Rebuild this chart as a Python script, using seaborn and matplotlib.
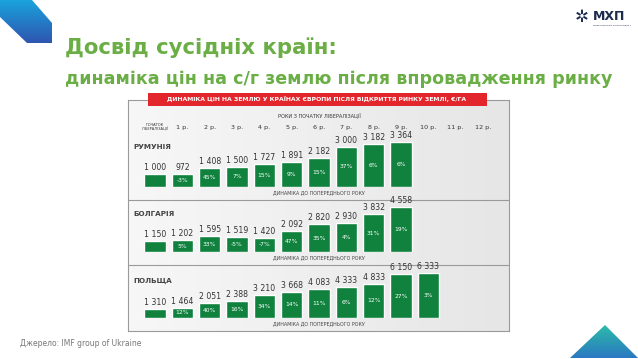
import numpy as np
import pandas as pd
import matplotlib.pyplot as plt
import seaborn as sns
from matplotlib.patches import Polygon, Rectangle
from matplotlib.colors import LinearSegmentedColormap

# дані з графіка: ціни на землю (€/га) по роках після лібералізації
years = list(range(13))
year_labels = ['ПОЧАТОК\nЛІБЕРАЛІЗАЦІЇ'] + [f'{i} р.' for i in range(1, 13)]

countries = ['РУМУНІЯ', 'БОЛГАРІЯ', 'ПОЛЬЩА']
romania_price = [1000, 972, 1408, 1500, 1727, 1891, 2182, 3000, 3182, 3364]
romania_change = ['', '-3%', '45%', '7%', '15%', '9%', '15%', '37%', '6%', '6%']
bulgaria_price = [1150, 1202, 1595, 1519, 1420, 2092, 2820, 2930, 3832, 4558]
bulgaria_change = ['', '5%', '33%', '-5%', '-7%', '47%', '35%', '4%', '31%', '19%']
poland_price = [1310, 1464, 2051, 2388, 3210, 3668, 4083, 4333, 4833, 6150, 6333]
poland_change = ['', '12%', '40%', '16%', '34%', '14%', '11%', '6%', '12%', '27%', '3%']

prices = [romania_price, bulgaria_price, poland_price]
changes = [romania_change, bulgaria_change, poland_change]

W, H = 638, 359
GREEN = '#10823e'
TITLE_GREEN = '#6aae45'
RED = '#e2262b'

sns.set_theme(style='white')
plt.rcParams['font.family'] = ['DejaVu Sans']

fig = plt.figure(figsize=(W / 100, H / 100), dpi=100)
fig.patch.set_facecolor('white')


def px_axes(x0, y0, x1, y1, **kw):
    # ejes en coordenadas de pixel (origen arriba a la izquierda)
    return fig.add_axes([x0 / W, 1 - y1 / H, (x1 - x0) / W, (y1 - y0) / H], **kw)


# fondo del slide: decoraciones
bg = px_axes(0, 0, W, H)
bg.set_xlim(0, W)
bg.set_ylim(H, 0)
bg.axis('off')
grad = np.linspace(0, 1, 100).reshape(-1, 1)
cmap_tl = LinearSegmentedColormap.from_list('tl', ['#1aa3dc', '#2e55b0'])
poly = Polygon([(0, 0), (32, 0), (52, 23), (52, 43), (27, 43), (0, 17)], closed=True,
               facecolor='none', edgecolor='none')
bg.add_patch(poly)
im = bg.imshow(grad, cmap=cmap_tl, extent=(0, 52, 43, 0), aspect='auto')
im.set_clip_path(poly)
cmap_br = LinearSegmentedColormap.from_list('br', ['#2cbba8', '#2b78c2'])
tri = Polygon([(605, 325), (638, 358), (570, 358)], closed=True,
              facecolor='none', edgecolor='none')
bg.add_patch(tri)
im2 = bg.imshow(grad, cmap=cmap_br, extent=(570, 638, 358, 325), aspect='auto')
im2.set_clip_path(tri)
bg.set_xlim(0, W)
bg.set_ylim(H, 0)

# logo
fig.text(593 / W, 1 - 17 / H, 'МХП', fontsize=9, fontweight='bold', color='#1d2b4f',
         va='center', ha='left')
fig.text(593 / W, 1 - 25 / H, 'МИРОНІВСЬКИЙ ХЛІБОПРОДУКТ', fontsize=1.6, color='#1d2b4f',
         va='center', ha='left')
fig.text(582 / W, 1 - 17 / H, '✲', fontsize=12, color='#1d2b4f', va='center', ha='center')

# títulos
fig.text(65 / W, 1 - 48 / H, 'Досвід сусідніх країн:', fontsize=15.3, fontweight='bold',
         color=TITLE_GREEN, va='center', ha='left')
fig.text(65 / W, 1 - 79 / H, 'динаміка цін на с/г землю після впровадження ринку',
         fontsize=12.6, fontweight='bold', color=TITLE_GREEN, va='center', ha='left')
fig.text(20 / W, 1 - 343 / H, 'Джерело: IMF group of Ukraine', fontsize=5.5,
         color='#777777', va='center', ha='left')

# panel con el mapa de fondo
panel = px_axes(128, 100, 509, 331)
panel.set_xlim(128, 509)
panel.set_ylim(331, 100)
cmap_map = LinearSegmentedColormap.from_list('map', ['#f7f7f7', '#e6e6e6'])
panel.imshow(np.linspace(0, 1, 100).reshape(1, -1), cmap=cmap_map,
             extent=(128, 509, 331, 100), aspect='auto')
panel.set_xticks([])
panel.set_yticks([])
for s in panel.spines.values():
    s.set_color('#9a9a9a')
    s.set_linewidth(0.8)
for y in [200, 265]:
    panel.plot([128, 509], [y, y], color='#9a9a9a', lw=0.8)
panel.add_patch(Rectangle((148, 93), 339, 13, facecolor=RED, edgecolor='none',
                          clip_on=False, zorder=5))
panel.text(317, 99.5, 'ДИНАМІКА ЦІН НА ЗЕМЛЮ У КРАЇНАХ ЄВРОПИ ПІСЛЯ ВІДКРИТТЯ РИНКУ ЗЕМЛІ, €/ГА',
           color='white', fontsize=4.4, fontweight='bold', ha='center', va='center',
           zorder=6, clip_on=False)
panel.set_xlim(128, 509)
panel.set_ylim(331, 100)

# columnas
col0, step = 155, 27.33
x_left = col0 - 0.5 * step
x_right = col0 + 12.5 * step
fig.text((col0 + 6 * step) / W, 1 - 116 / H, 'РОКИ З ПОЧАТКУ ЛІБЕРАЛІЗАЦІЇ',
         fontsize=3.6, color='#333333', ha='center', va='center')
for i, lab in zip(years, year_labels):
    fs = 2.6 if i == 0 else 4.6
    fig.text((col0 + i * step) / W, 1 - 127 / H, lab, fontsize=fs, color='#333333',
             ha='center', va='center', linespacing=1.1)

baselines = [187, 252, 318]
label_y = [147, 214, 281]
for k in range(3):
    base = baselines[k]
    ax = px_axes(x_left, base - 45, x_right, base)
    ax.patch.set_alpha(0)
    df = pd.DataFrame({'year': years[:len(prices[k])], 'price': prices[k]})
    sns.barplot(data=df, x='year', y='price', native_scale=True, color=GREEN,
                saturation=1, width=0.78, errorbar=None, ax=ax)
    ax.set_xlim(-0.5, 12.5)
    ax.set_ylim(0, max(prices[k]))
    ax.axis('off')
    cont = ax.containers[0]
    ax.bar_label(cont, labels=[f'{v:,}'.replace(',', ' ') for v in prices[k]],
                 padding=1.5, fontsize=5.6, color='#333333')
    ax.bar_label(cont, labels=changes[k], label_type='center', fontsize=4.3,
                 color='white')
    fig.text(133 / W, 1 - label_y[k] / H, countries[k], fontsize=5.2, fontweight='bold',
             color='#444444', ha='left', va='center')
    fig.text((col0 + 6 * step) / W, 1 - (base + 6) / H, 'ДИНАМІКА ДО ПОПЕРЕДНЬОГО РОКУ',
             fontsize=3.4, color='#444444', ha='center', va='center')

fig.savefig('out.png', dpi=100)
